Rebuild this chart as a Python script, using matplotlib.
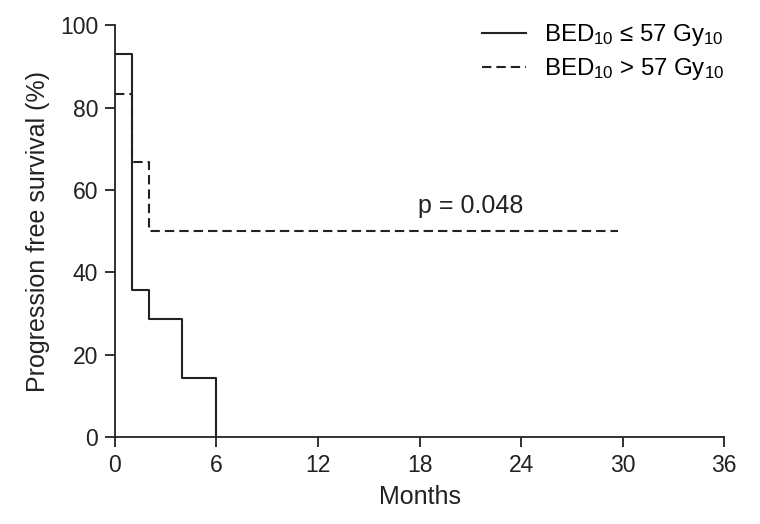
import numpy as np
import matplotlib.pyplot as plt

plt.rcParams['font.family'] = ['Liberation Sans', 'DejaVu Sans']
plt.rcParams['mathtext.fontset'] = 'custom'
plt.rcParams['mathtext.rm'] = 'Liberation Sans'
plt.rcParams['mathtext.it'] = 'Liberation Sans'

# step points (months, % survival)
low_t = [0, 1, 2, 4, 6, 6]
low_s = [92.9, 35.7, 28.6, 14.3, 0, 0]
high_t = [0, 1, 2, 29.7]
high_s = [83.3, 66.7, 50.0, 50.0]

xticks = [0, 6, 12, 18, 24, 30, 36]
yticks = [0, 20, 40, 60, 80, 100]
p_text = 'p = 0.048'

fs = 16.5
big = 18
ink = '#222222'

fig = plt.figure(figsize=(7.6, 5.24), dpi=100)
ax = fig.add_axes([0.151, 0.166, 0.802, 0.786])

ax.step(low_t, low_s, where='post', color=ink, lw=1.5,
        label=r'BED$_{10}$ ≤ 57 Gy$_{10}$')
ax.step(high_t, high_s, where='post', color=ink, lw=1.5,
        linestyle=(0, (4.5, 2.4)), label=r'BED$_{10}$ > 57 Gy$_{10}$')

ax.text(21, 56, p_text, fontsize=big, ha='center', va='center', color=ink)

ax.set_xlim(0, 36)
ax.set_ylim(0, 100)
ax.set_xticks(xticks)
ax.set_yticks(yticks)
ax.spines['top'].set_visible(False)
ax.spines['right'].set_visible(False)
for s in ['left', 'bottom']:
    ax.spines[s].set_linewidth(1.3)
    ax.spines[s].set_color(ink)
ax.tick_params(direction='out', length=7, width=1.3, labelsize=fs, colors=ink, pad=5)
ax.set_xlabel('Months', fontsize=big, color=ink, labelpad=6)
ax.set_ylabel('Progression free survival (%)', fontsize=big, color=ink, labelpad=7)

ax.legend(loc='upper right', frameon=False, fontsize=17.3, handlelength=1.83,
          handletextpad=0.75, labelspacing=0.32, borderaxespad=0,
          bbox_to_anchor=(1.015, 1.03))

fig.savefig('out.png', dpi=100)
